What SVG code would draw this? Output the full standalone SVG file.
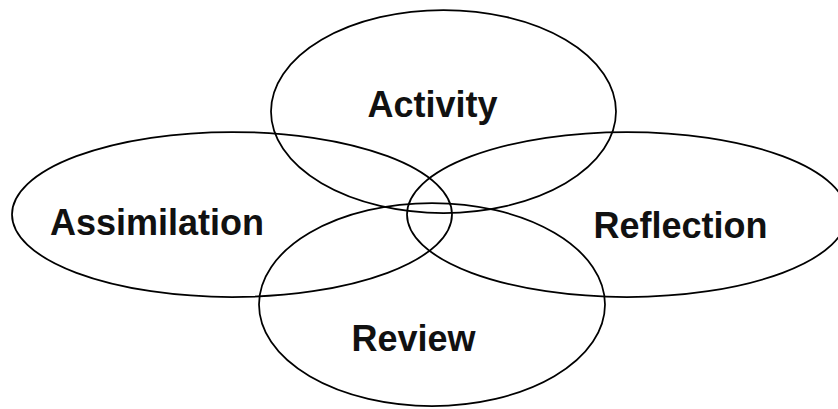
<svg xmlns="http://www.w3.org/2000/svg" width="838" height="409" viewBox="0 0 838 409">
<style>
.ring{fill:none;stroke:#000;stroke-width:1.75}
.lbl{font-family:"Liberation Sans",Arial,sans-serif;font-weight:bold;font-size:36px;fill:#111;text-anchor:middle}
</style>
<rect width="838" height="409" fill="#fff"/>
<g id="activity">
<ellipse class="ring" cx="443.5" cy="111.5" rx="172.5" ry="101.5"/>
<text class="lbl" x="432.5" y="117">Activity</text>
</g>
<g id="assimilation">
<ellipse class="ring" cx="232" cy="214.5" rx="220" ry="82.5"/>
<text class="lbl" x="157" y="235">Assimilation</text>
</g>
<g id="reflection">
<ellipse class="ring" cx="627" cy="214.5" rx="220" ry="82.5"/>
<text class="lbl" x="680.5" y="238">Reflection</text>
</g>
<g id="review">
<ellipse class="ring" cx="432" cy="304.5" rx="173" ry="101.5"/>
<text class="lbl" x="413.5" y="351">Review</text>
</g>
</svg>
